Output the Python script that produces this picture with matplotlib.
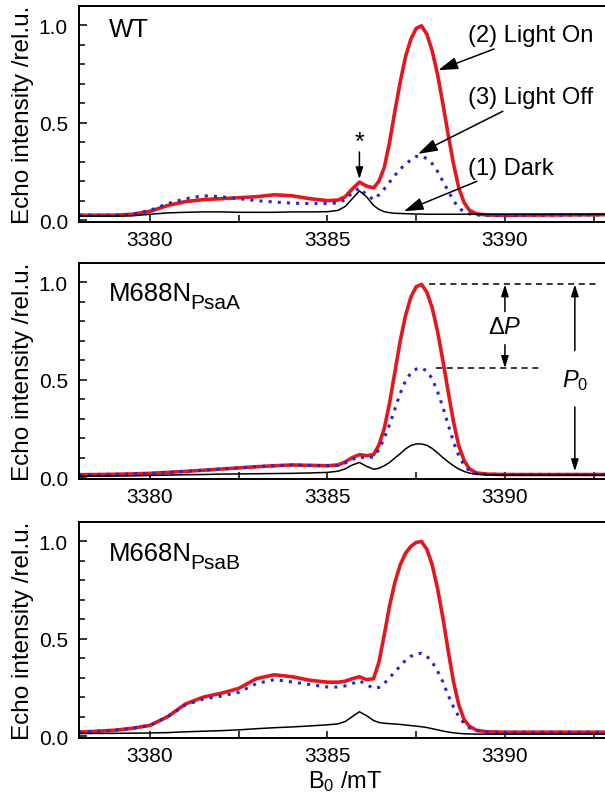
import matplotlib
matplotlib.use("Agg")
import matplotlib.pyplot as plt
from matplotlib.ticker import MultipleLocator

plt.rcParams["font.family"] = ["Liberation Sans", "DejaVu Sans"]
plt.rcParams["mathtext.fontset"] = "custom"
plt.rcParams["mathtext.rm"] = "Liberation Sans"
plt.rcParams["mathtext.it"] = "Liberation Sans:italic"

# magnetic field, mT
B0 = [3378, 3379, 3379.5, 3380, 3380.5, 3381, 3381.5, 3382, 3382.5, 3383,
      3383.5, 3384, 3384.5, 3385, 3385.3, 3385.5, 3385.7, 3385.9, 3386.1, 3386.3,
      3386.45, 3386.6, 3386.75, 3386.9, 3387.05, 3387.2, 3387.35, 3387.5, 3387.65, 3387.8,
      3387.95, 3388.1, 3388.25, 3388.4, 3388.55, 3388.7, 3388.85, 3389.0, 3389.2, 3389.5,
      3390.0, 3391.0, 3392.0, 3393.0]

# WT
wt_on = [0.025, 0.025, 0.03, 0.045, 0.075, 0.095, 0.105, 0.11, 0.115, 0.12,
         0.13, 0.125, 0.11, 0.10, 0.103, 0.12, 0.16, 0.195, 0.175, 0.165,
         0.20, 0.27, 0.40, 0.56, 0.71, 0.84, 0.93, 0.985, 0.998, 0.955,
         0.87, 0.75, 0.60, 0.44, 0.29, 0.165, 0.09, 0.05, 0.032, 0.026,
         0.025, 0.026, 0.027, 0.028]
wt_off = [0.025, 0.025, 0.03, 0.05, 0.085, 0.11, 0.125, 0.12, 0.11, 0.10,
          0.093, 0.087, 0.085, 0.085, 0.088, 0.105, 0.14, 0.165, 0.13, 0.105,
          0.13, 0.16, 0.195, 0.23, 0.262, 0.287, 0.31, 0.327, 0.33, 0.315,
          0.29, 0.25, 0.20, 0.15, 0.10, 0.063, 0.042, 0.032, 0.026, 0.024,
          0.023, 0.025, 0.026, 0.027]
wt_dark = [0.02, 0.02, 0.022, 0.03, 0.037, 0.04, 0.042, 0.042, 0.04, 0.04,
           0.04, 0.042, 0.042, 0.043, 0.05, 0.07, 0.11, 0.15, 0.12, 0.075,
           0.055, 0.043, 0.038, 0.035, 0.034, 0.033, 0.032, 0.031, 0.031, 0.03,
           0.03, 0.03, 0.03, 0.03, 0.03, 0.03, 0.03, 0.03, 0.03, 0.03,
           0.03, 0.03, 0.03, 0.03]

# M688N PsaA
psaa_on = [0.012, 0.014, 0.016, 0.019, 0.024, 0.029, 0.035, 0.041, 0.047, 0.053,
           0.058, 0.062, 0.06, 0.058, 0.062, 0.078, 0.10, 0.115, 0.11, 0.115,
           0.165, 0.25, 0.38, 0.54, 0.70, 0.83, 0.925, 0.978, 0.99, 0.95,
           0.87, 0.75, 0.60, 0.44, 0.285, 0.16, 0.085, 0.042, 0.021, 0.015,
           0.013, 0.013, 0.013, 0.013]
psaa_off = [0.012, 0.014, 0.016, 0.019, 0.024, 0.029, 0.035, 0.041, 0.047, 0.053,
            0.058, 0.062, 0.06, 0.058, 0.06, 0.072, 0.09, 0.105, 0.095, 0.105,
            0.14, 0.20, 0.27, 0.35, 0.43, 0.495, 0.535, 0.555, 0.56, 0.545,
            0.505, 0.44, 0.36, 0.27, 0.18, 0.11, 0.06, 0.033, 0.018, 0.014,
            0.013, 0.013, 0.013, 0.013]
psaa_dark = [0.004, 0.005, 0.006, 0.008, 0.01, 0.012, 0.013, 0.015, 0.016, 0.017,
             0.018, 0.019, 0.021, 0.024, 0.03, 0.042, 0.062, 0.075, 0.055, 0.04,
             0.045, 0.058, 0.075, 0.098, 0.12, 0.145, 0.162, 0.17, 0.17, 0.163,
             0.147, 0.125, 0.10, 0.078, 0.058, 0.041, 0.029, 0.02, 0.014, 0.011,
             0.01, 0.01, 0.01, 0.01]

# M668N PsaB
psab_on = [0.02, 0.03, 0.04, 0.055, 0.10, 0.165, 0.20, 0.22, 0.245, 0.295,
           0.315, 0.305, 0.287, 0.277, 0.277, 0.282, 0.295, 0.305, 0.29, 0.295,
           0.38, 0.52, 0.67, 0.79, 0.88, 0.94, 0.975, 0.995, 1.0, 0.96,
           0.88, 0.76, 0.61, 0.44, 0.28, 0.16, 0.085, 0.05, 0.03, 0.022,
           0.02, 0.02, 0.02, 0.02]
psab_off = [0.02, 0.03, 0.04, 0.055, 0.10, 0.16, 0.19, 0.205, 0.225, 0.27,
            0.29, 0.278, 0.265, 0.252, 0.252, 0.258, 0.27, 0.285, 0.265, 0.245,
            0.25, 0.27, 0.30, 0.33, 0.36, 0.39, 0.41, 0.423, 0.425, 0.41,
            0.38, 0.335, 0.28, 0.21, 0.15, 0.10, 0.065, 0.042, 0.028, 0.022,
            0.02, 0.02, 0.02, 0.02]
psab_dark = [0.013, 0.014, 0.015, 0.016, 0.018, 0.022, 0.025, 0.028, 0.032, 0.038,
             0.043, 0.047, 0.052, 0.058, 0.063, 0.075, 0.10, 0.125, 0.105, 0.08,
             0.07, 0.066, 0.064, 0.062, 0.06, 0.057, 0.054, 0.051, 0.048, 0.044,
             0.038, 0.032, 0.026, 0.021, 0.017, 0.014, 0.012, 0.011, 0.01, 0.01,
             0.01, 0.01, 0.01, 0.01]

RED = "#e3171d"
BLUE = "#2626d0"
ARROW = dict(arrowstyle="-|>,head_length=0.7,head_width=0.22", color="k",
             lw=1.1, shrinkA=0, shrinkB=0)

fig = plt.figure(figsize=(6.05, 8.04), dpi=100)
left, width, height = 0.1306, 0.880, 0.2687
ax1 = fig.add_axes([left, 0.7226, width, height])
ax2 = fig.add_axes([left, 0.4030, width, height])
ax3 = fig.add_axes([left, 0.0808, width, height])


def draw(ax, on, off, dark):
    ax.plot(B0, on, color=RED, lw=2.6, solid_joinstyle="round")
    ax.plot(B0, off, color=BLUE, lw=2.2, linestyle=(0, (1, 2)))
    ax.plot(B0, dark, color="k", lw=1.1)

    ax.set_xlim(3378, 3393)
    ax.set_ylim(-0.01, 1.1)
    ax.xaxis.set_major_locator(MultipleLocator(5))
    ax.xaxis.set_minor_locator(MultipleLocator(2.5))
    ax.yaxis.set_major_locator(MultipleLocator(0.5))
    ax.yaxis.set_minor_locator(MultipleLocator(0.1))
    ax.yaxis.set_major_formatter(lambda v, p: f"{v:.1f}")
    ax.tick_params(which="both", direction="in", top=False, right=False,
                   width=1.1, labelsize=15)
    ax.tick_params(axis="y", which="major", length=6, pad=8)
    ax.tick_params(axis="y", which="minor", length=4)
    ax.tick_params(axis="x", which="both", length=5, pad=6)
    for sp in ax.spines.values():
        sp.set_linewidth(1.4)
    ax.set_ylabel("Echo intensity /rel.u.", fontsize=17.5, labelpad=3)


def name(ax, main, sub, y):
    t = ax.text(3378.85, y, main, fontsize=18.5, va="baseline")
    if sub:
        ax.annotate(sub, xy=(1, 0), xycoords=t, xytext=(-1.5, -2),
                    textcoords="offset points", fontsize=15, va="baseline")


draw(ax1, wt_on, wt_off, wt_dark)
draw(ax2, psaa_on, psaa_off, psaa_dark)
draw(ax3, psab_on, psab_off, psab_dark)

name(ax1, "WT", None, 0.945)
name(ax2, "M688N", "PsaA", 0.91)
name(ax3, "M668N", "PsaB", 0.905)

# WT labels
ax1.text(3385.9, 0.40, "*", fontsize=18, ha="center", va="center")
ax1.annotate("", xy=(3385.9, 0.21), xytext=(3385.9, 0.35), arrowprops=ARROW)
ax1.annotate("(2) Light On", xy=(3388.12, 0.77), xytext=(3388.95, 0.95),
             fontsize=17, va="center", arrowprops=ARROW)
ax1.annotate("(3) Light Off", xy=(3387.55, 0.34), xytext=(3388.95, 0.63),
             fontsize=17, va="center", arrowprops=ARROW)
ax1.annotate("(1) Dark", xy=(3387.15, 0.045), xytext=(3388.95, 0.27),
             fontsize=17, va="center", arrowprops=ARROW)

# P0 and delta P for M688N
p0 = max(psaa_on)
p1 = max(psaa_off)
ax2.plot([3387.85, 3392.6], [p0, p0], "k--", lw=1.1, dashes=(4, 3))
ax2.plot([3388.05, 3391.0], [p1, p1], "k--", lw=1.1, dashes=(4, 3))
ax2.annotate("", xy=(3390.0, p0), xytext=(3390.0, 0.85), arrowprops=ARROW)
ax2.annotate("", xy=(3390.0, p1), xytext=(3390.0, 0.68), arrowprops=ARROW)
ax2.text(3390.0, 0.77, "Δ$P$", fontsize=17, ha="center", va="center")
ax2.annotate("", xy=(3391.97, p0), xytext=(3391.97, 0.65), arrowprops=ARROW)
ax2.annotate("", xy=(3391.97, 0.03), xytext=(3391.97, 0.36), arrowprops=ARROW)
ax2.text(3391.97, 0.50, "$P_0$", fontsize=17, ha="center", va="center")

ax3.set_xlabel("B$_0$ /mT", fontsize=17, labelpad=2)

fig.savefig("out.png", dpi=100)
